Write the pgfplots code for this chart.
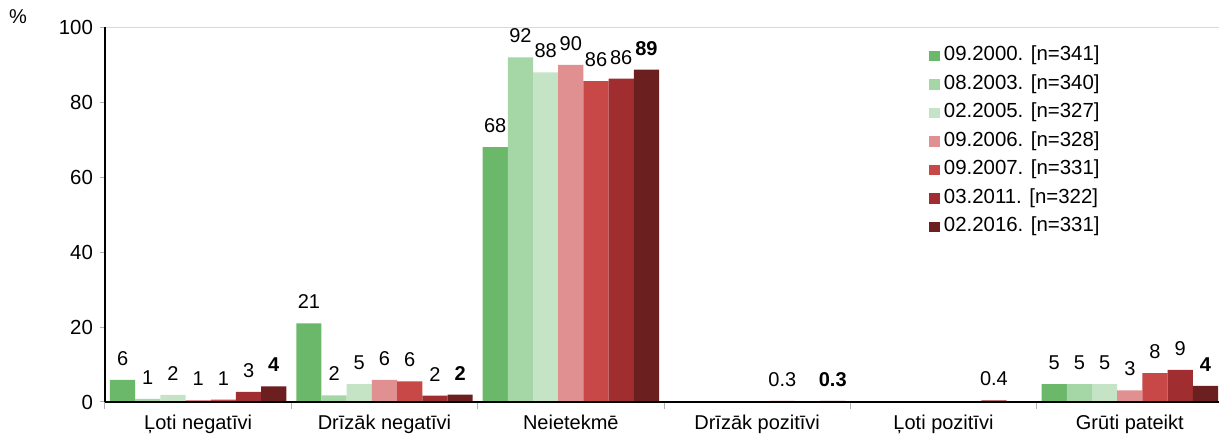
\documentclass[border=0pt]{standalone}
\usepackage{fontspec}
\setmainfont{Liberation Sans}
\usepackage{pgfplots}
\pgfplotsset{compat=1.18}
\usepackage{pgfplotstable}

\definecolor{cA}{RGB}{107,184,107}
\definecolor{cB}{RGB}{165,214,165}
\definecolor{cC}{RGB}{197,227,197}
\definecolor{cD}{RGB}{224,144,144}
\definecolor{cE}{RGB}{200,72,72}
\definecolor{cF}{RGB}{160,46,48}
\definecolor{cG}{RGB}{107,31,31}

\pgfplotstableread{
x y lab
0 5.9 6
1 21 21
2 68 68
5 4.8 5
}\tA
\pgfplotstableread{
x y lab
0 0.8 1
1 1.8 2
2 92 92
5 4.8 5
}\tB
\pgfplotstableread{
x y lab
0 1.9 2
1 4.8 5
2 88 88
5 4.8 5
}\tC
\pgfplotstableread{
x y lab
0 0.5 1
1 5.9 6
2 90 90
5 3.1 3
}\tD
\pgfplotstableread{
x y lab
0 0.6 1
1 5.5 6
2 85.6 86
3 0.3 0.3
5 7.7 8
}\tE
\pgfplotstableread{
x y lab
0 2.7 3
1 1.7 2
2 86.3 86
4 0.4 0.4
5 8.6 9
}\tF
\pgfplotstableread{
x y lab
0 4.2 4
1 2.0 2
2 88.7 89
3 0.3 0.3
5 4.3 4
}\tG

\begin{document}
\begin{tikzpicture}
\begin{axis}[
  at={(0pt,0pt)}, anchor=south west,
  scale only axis,
  width=559pt, height=187.35pt,
  xmin=-0.5, xmax=5.5, ymin=0, ymax=100,
  clip=false,
  axis on top,
  ybar=0pt, bar width=12.6pt,
  axis x line*=bottom, axis y line*=left,
  axis line style={black, line width=0.55pt},
  font=\fontsize{10}{12}\selectfont,
  /pgf/number format/assume math mode=true,
  ytick={0,20,...,100},
  xtick={0,...,5},
  xticklabels={Ļoti negatīvi, Drīzāk negatīvi, Neietekmē, Drīzāk pozitīvi, Ļoti pozitīvi, Grūti pateikt},
  minor xtick={-0.5,0.5,...,5.5},
  tick align=outside,
  major tick length=2.5pt,
  minor tick length=3.5pt,
  x tick style={draw=none},
  minor x tick style={draw=gray!60, line width=0.5pt},
  y tick style={draw=gray!60, line width=0.5pt},
  yticklabel style={font=\fontsize{10.2}{12}\selectfont},
  xticklabel style={font=\fontsize{10}{12}\selectfont, anchor=north, inner sep=0pt, yshift=-4pt},
  nodes near coords={\pgfplotspointmeta},
  point meta=explicit symbolic,
  every node near coord/.append style={font=\fontsize{10}{12}\selectfont, inner sep=0pt, anchor=south, yshift=7pt},
  legend style={draw=none, fill=none, at={(rel axis cs:0.737,0.954)}, anchor=north west,
    font=\fontsize{10.2}{12}\selectfont, row sep=3.25pt, inner sep=0pt, column sep=0pt,
    nodes={inner sep=0pt, text height=8pt, text depth=3pt, anchor=west}},
  legend image code/.code={\fill[#1] (0pt,-2.6pt) rectangle (5.2pt,2.6pt); \path (7.3pt,0pt);},
  legend cell align=left,
]
\addplot[fill=cA, draw=none] table[x=x, y=y, meta=lab] {\tA};
\addplot[fill=cB, draw=none] table[x=x, y=y, meta=lab] {\tB};
\addplot[fill=cC, draw=none] table[x=x, y=y, meta=lab] {\tC};
\addplot[fill=cD, draw=none] table[x=x, y=y, meta=lab] {\tD};
\addplot[fill=cE, draw=none] table[x=x, y=y, meta=lab] {\tE};
\addplot[fill=cF, draw=none] table[x=x, y=y, meta=lab] {\tF};
\addplot[fill=cG, draw=none, every node near coord/.append style={font=\fontsize{10}{12}\selectfont\bfseries}] table[x=x, y=y, meta=lab] {\tG};
\legend{09.2000. [n=341], 08.2003. [n=340], 02.2005. [n=327], 09.2006. [n=328], 09.2007. [n=331], 03.2011. [n=322], 02.2016. [n=331]}
\draw[gray!30, line width=0.6pt] (rel axis cs:0,1) -- (rel axis cs:1,1);
\node[font=\fontsize{10}{12}\selectfont] at ([xshift=-43.5pt, yshift=5.15pt]rel axis cs:0,1) {\%};
\end{axis}
\pgfresetboundingbox
\path[use as bounding box] (-52.5pt,-17.5pt) rectangle (557pt,201pt);
\end{tikzpicture}
\end{document}
